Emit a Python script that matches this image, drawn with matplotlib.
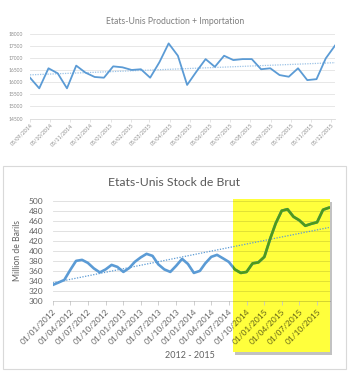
import numpy as np
import pandas as pd
import matplotlib.pyplot as plt
import matplotlib.dates as mdates
from matplotlib.patches import Rectangle

plt.rcParams['font.family'] = ['Lato', 'DejaVu Sans']

# --- top chart: production + importation (biweekly)
prod_dates = pd.date_range('2014-09-05', periods=34, freq='14D')
prod_values = [16190, 15750, 16580, 16370, 15750, 16690, 16400, 16220, 16190, 16660,
               16620, 16510, 16540, 16190, 16830, 17610, 17100, 15890, 16440, 16960,
               16640, 17100, 16920, 16960, 16960, 16540, 16580, 16300, 16230, 16580,
               16090, 16130, 16990, 17520]
prod_ticks = pd.date_range('2014-09-01', periods=16, freq='MS') + pd.Timedelta(days=4)
prod_yticks = [14500, 15000, 15500, 16000, 16500, 17000, 17500, 18000]

# --- bottom chart: crude stocks (monthly)
stock_dates = pd.date_range('2012-01-01', periods=48, freq='MS')
stock_values = [332, 337, 342, 362, 380, 382, 376, 365, 357, 363, 372, 368,
                358, 366, 378, 387, 394, 390, 373, 363, 358, 370, 384, 374,
                356, 360, 375, 388, 392, 385, 378, 363, 356, 358, 375, 377,
                388, 425, 455, 480, 483, 468, 461, 450, 454, 457, 482, 486]
stock_ticks = pd.date_range('2012-01-01', periods=16, freq='QS')
stock_yticks = list(range(300, 501, 20))

blue = '#5B9BD5'
W, H = 353, 377

fig = plt.figure(figsize=(W / 100, H / 100), dpi=100)


def fx(px):
    return px / W


def fy(py):
    return 1 - py / H


# ---------------- top
ax1 = fig.add_axes([fx(30), fy(118.5), fx(305), 84.5 / H])
ax1.plot(prod_dates, prod_values, color=blue, lw=1.3, zorder=3)
xn = mdates.date2num(prod_dates)
k, b = np.polyfit(xn, prod_values, 1)
ax1.plot(prod_dates, k * xn + b, color='#9DC3E6', lw=0.9, ls=(0, (1, 1)), zorder=2)
ax1.set_xlim(prod_dates[0], prod_dates[-1])
ax1.set_ylim(14500, 18000)
ax1.set_yticks(prod_yticks)
ax1.set_xticks(prod_ticks)
ax1.set_xticklabels([d.strftime('%d/%m/%Y') for d in prod_ticks], rotation=45,
                    ha='right', rotation_mode='anchor', fontsize=3.8, color='#8c8c8c')
ax1.tick_params(axis='y', labelsize=3.6, labelcolor='#8c8c8c', length=0, pad=5)
ax1.tick_params(axis='x', length=2, color='#d9d9d9', width=0.5, pad=1)
ax1.grid(axis='y', color='#e3e3e3', lw=0.6)
ax1.set_axisbelow(True)
for s in ['top', 'right', 'left']:
    ax1.spines[s].set_visible(False)
ax1.spines['bottom'].set_color('#d9d9d9')
ax1.spines['bottom'].set_linewidth(0.6)
fig.text(fx(175), fy(21), 'Etats-Unis Production + Importation', ha='center', va='center',
         fontsize=6.2, color='#7f7f7f')

# ---------------- bottom
fig.patches.append(Rectangle((fx(3), fy(369)), fx(343), (369 - 166) / H,
                             transform=fig.transFigure, fc='none', ec='#d9d9d9', lw=0.8, zorder=-3))
hx0, hx1, hy0, hy1 = 233, 329.5, 199, 352
fig.patches.append(Rectangle((fx(hx0 + 2.5), fy(hy1 + 2.5)), fx(hx1 - hx0), (hy1 - hy0) / H,
                             transform=fig.transFigure, fc='#9a9a9a', ec='none', alpha=0.6, zorder=-2))
fig.patches.append(Rectangle((fx(hx0), fy(hy1)), fx(hx1 - hx0), (hy1 - hy0) / H,
                             transform=fig.transFigure, fc='#FFFF3C', ec='none', zorder=-1))

ax2 = fig.add_axes([fx(52.7), fy(301), fx(277.3), 100.3 / H])
ax2.set_facecolor('none')
ax2.plot(stock_dates, stock_values, color=blue, lw=1.9, zorder=3)
green = ax2.plot(stock_dates, stock_values, color='#4E9A1A', lw=1.9, zorder=4)[0]
green.set_clip_path(Rectangle((fx(hx0), fy(hy1)), fx(hx1 - hx0), (hy1 - hy0) / H,
                              transform=fig.transFigure))
sn = mdates.date2num(stock_dates)
k2, b2 = np.polyfit(sn, stock_values, 1)
ax2.plot(stock_dates, k2 * sn + b2, color=blue, lw=0.9, ls=(0, (1, 1.2)), zorder=2)
ax2.set_xlim(stock_dates[0], pd.Timestamp('2015-12-07'))
ax2.set_ylim(300, 500)
ax2.set_yticks(stock_yticks)
ax2.set_xticks(stock_ticks)
ax2.set_xticklabels([d.strftime('%d/%m/%Y') for d in stock_ticks], rotation=45,
                    ha='right', rotation_mode='anchor', fontsize=6)
ax2.tick_params(axis='y', labelsize=6, length=0, pad=7)
ax2.tick_params(axis='x', length=3, color='#c8c8c8', width=0.6, pad=2)
ax2.tick_params(labelcolor=(0, 0, 0, 0.62))
ax2.grid(axis='y', color='black', alpha=0.14, lw=0.6)
ax2.set_axisbelow(True)
for s in ['top', 'right', 'left']:
    ax2.spines[s].set_visible(False)
ax2.spines['bottom'].set_color('black')
ax2.spines['bottom'].set_alpha(0.2)
ax2.spines['bottom'].set_linewidth(0.6)
ax2.set_ylabel('Million de Barils', fontsize=6.2, color=(0, 0, 0, 0.62))
ax2.yaxis.set_label_coords(-0.11, 0.5)
fig.text(fx(190), fy(355), '2012 - 2015', ha='center', va='center', fontsize=6.5,
         color=(0, 0, 0, 0.62))
fig.text(fx(174), fy(183), 'Etats-Unis Stock de Brut', ha='center', va='center',
         fontsize=8.8, color='#595959')

fig.savefig('out.png', dpi=100)
